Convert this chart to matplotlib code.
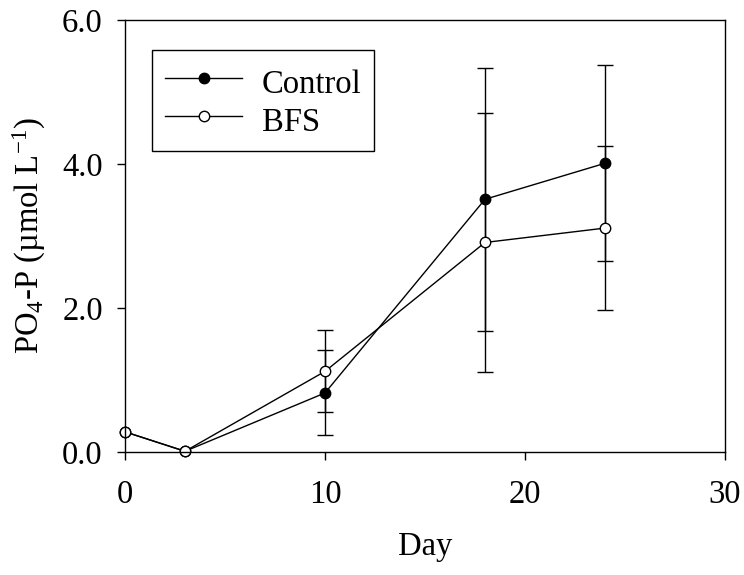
import matplotlib
matplotlib.use("Agg")
import matplotlib.pyplot as plt
from matplotlib.lines import Line2D
import numpy as np

plt.rcParams['font.family'] = ['Liberation Serif', 'DejaVu Serif']
plt.rcParams['mathtext.fontset'] = 'custom'
plt.rcParams['mathtext.rm'] = 'Liberation Serif'
plt.rcParams['mathtext.it'] = 'Liberation Serif:italic'

days = [0, 3, 10, 18, 24]
control = [0.28, 0.01, 0.82, 3.51, 4.01]
control_err = [0.0, 0.0, 0.59, 1.83, 1.36]
bfs = [0.28, 0.01, 1.12, 2.91, 3.11]
bfs_err = [0.0, 0.0, 0.57, 1.80, 1.14]
series_labels = ["Control", "BFS"]

fig = plt.figure(figsize=(7.44, 5.75), dpi=100)
ax = fig.add_axes([125/744, 1 - 452/575, 600/744, 432/575])

fs = 23.5
handles = []
for vals, errs, face, lab in [(control, control_err, 'black', series_labels[0]),
                               (bfs, bfs_err, 'white', series_labels[1])]:
    eb = ax.errorbar(days, vals, yerr=[e if e > 0 else np.nan for e in errs],
                     color='black', lw=1.0, elinewidth=1.0, capsize=6, capthick=1.0,
                     marker='o', markersize=7.5, markerfacecolor=face,
                     markeredgecolor='black', markeredgewidth=1.0)
    eb[0].set_clip_on(False)
    handles.append(Line2D([], [], color='black', lw=1.0, marker='o', markersize=7.5,
                          markerfacecolor=face, markeredgecolor='black',
                          markeredgewidth=1.0, label=lab))

ax.set_xlim(0, 30)
ax.set_ylim(0, 6)
ax.set_xticks([0, 10, 20, 30])
ax.set_yticks([0, 2, 4, 6])
ax.set_yticklabels(['0.0', '2.0', '4.0', '6.0'])
ax.tick_params(direction='out', length=6, width=1, labelsize=fs)
ax.tick_params(axis='x', pad=14)
ax.tick_params(axis='y', pad=10)
for s in ax.spines.values():
    s.set_linewidth(1.0)
ax.set_xlabel('Day', fontsize=fs, labelpad=15)
ax.set_ylabel('PO$_4$-P (µmol L$^{\\mathrm{-1}}$)', fontsize=fs, labelpad=10)

leg = ax.legend(handles=handles, loc='upper left', bbox_to_anchor=(0.045, 0.93), fontsize=fs,
                frameon=True, fancybox=False, edgecolor='black', framealpha=1,
                handlelength=2.36, handleheight=1.35, borderaxespad=0, labelspacing=0.05,
                handletextpad=0.6, borderpad=0.4)
leg.get_frame().set_linewidth(1.0)

fig.savefig('out.png', dpi=100)
